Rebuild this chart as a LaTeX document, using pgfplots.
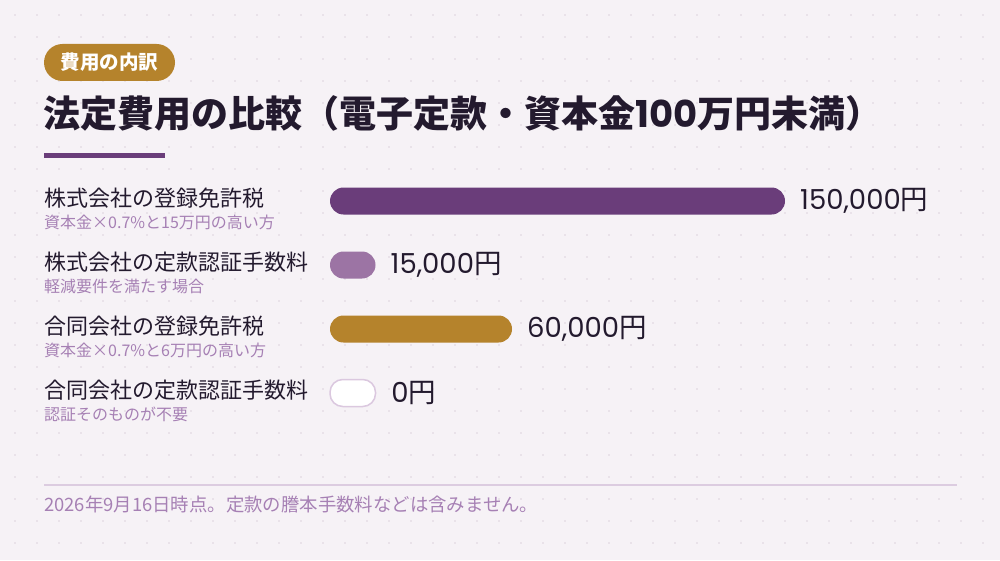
\documentclass[border=0pt]{standalone}
\usepackage{fontspec}
\usepackage{pgfplots}
\pgfplotsset{compat=1.18}
\setmainfont{Noto Sans CJK JP}
\newfontfamily\pop{Poppins}

\definecolor{bg}{HTML}{F6F2F6}
\definecolor{dotc}{HTML}{DDD3DD}
\definecolor{ink}{HTML}{231A2E}
\definecolor{sub}{HTML}{A680B4}
\definecolor{barA}{HTML}{6A3D7A}
\definecolor{barB}{HTML}{9C74A4}
\definecolor{gold}{HTML}{B5832C}
\definecolor{edge}{HTML}{DBC8DF}
\definecolor{rule}{HTML}{DCCCE0}

\newcommand{\fs}[1]{\fontsize{#1}{#1}\selectfont}

\begin{document}
\begin{tikzpicture}[x=1pt,y=1pt]
  % canvas and dotted background
  \fill[bg] (0,0) rectangle (1000,560);
  \foreach \i in {0,...,44}{
    \foreach \j in {0,...,24}{
      \fill[dotc] ({15+22*\i},{560-15-22*\j}) circle (0.8);
    }
  }

  % badge
  \fill[gold, rounded corners=18.5] (44,{560-81}) rectangle (175,{560-44});
  \node[anchor=center, text=white, inner sep=0] at (109.5,{560-62.5})
    {\fs{19.5}\bfseries 費用の内訳};

  % title
  \node[anchor=west, text=ink, inner sep=0] at (43,{560-113})
    {\fs{37}\bfseries 法定費用の比較（電子定款・資本金{\pop\bfseries 100}万円未満）};
  \fill[barA] (44,{560-158}) rectangle (165,{560-153});

  % category labels
  \foreach \y/\a/\b in {
      201/株式会社の登録免許税/資本金×0.7\%と15万円の高い方,
      265/株式会社の定款認証手数料/軽減要件を満たす場合,
      329/合同会社の登録免許税/資本金×0.7\%と6万円の高い方,
      393/合同会社の定款認証手数料/認証そのものが不要}{
    \node[anchor=west, text=ink, inner sep=0] at (44,{560-\y+3}) {\fs{22}\a};
    \node[anchor=west, text=sub, inner sep=0] at (44,{560-\y-21}) {\fs{16}\b};
  }

  \begin{axis}[
      at={(330pt,135pt)}, anchor=south west,
      width=455pt, height=256pt, scale only axis,
      xmin=0, xmax=150000, ymin=-0.5, ymax=3.5,
      y dir=reverse,
      hide axis, clip=false,
      xbar, bar width=27pt, bar shift=0pt,
      point meta=explicit,
      /pgf/number format/.cd, fixed, precision=0, 1000 sep={,},
        assume math mode=true,
      /pgfplots/.cd,
      nodes near coords={{\pop\pgfmathprintnumber{\pgfplotspointmeta}}円},
      every node near coord/.append style={anchor=west, inner sep=0,
        xshift=15pt, text=ink, font=\fs{27.5}},
    ]
    \addplot[fill=barA, draw=none, rounded corners=13.5pt]
      coordinates {(150000,0) [150000]};
    \addplot[fill=barB, draw=none, rounded corners=13.5pt]
      coordinates {(15000,1) [15000]};
    \addplot[fill=gold, draw=none, rounded corners=13.5pt]
      coordinates {(60000,2) [60000]};
    % zero bar: drawn as an empty pill of the smallest bar length
    \addplot[fill=white, draw=edge, line width=1.5pt, rounded corners=12.75pt,
      x filter/.expression={max(x,15000)}]
      coordinates {(0,3) [0]};
  \end{axis}

  % footer
  \draw[rule, line width=2] (44,{560-485}) -- (957,{560-485});
  \node[anchor=west, text=sub, inner sep=0] at (44,{560-505})
    {\fs{18.4}2026年9月16日時点。定款の謄本手数料などは含みません。};
\end{tikzpicture}
\end{document}
